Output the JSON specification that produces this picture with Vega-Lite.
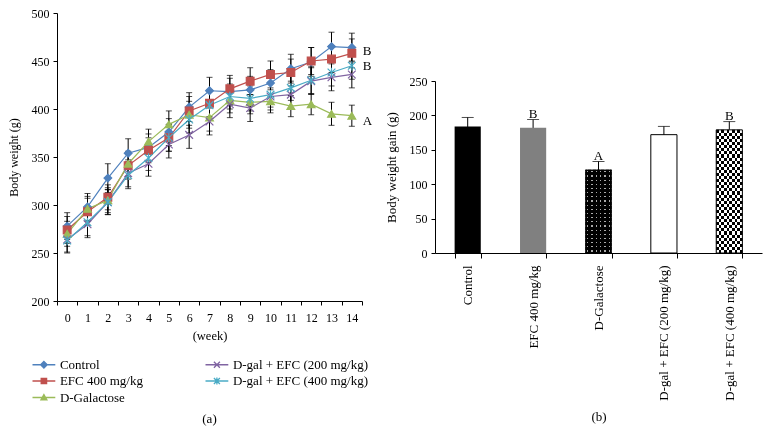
{
  "$schema": "https://vega.github.io/schema/vega-lite/v6.json",
  "padding": {"left": 7, "top": 7, "right": 5, "bottom": 0},
  "background": "white",
  "spacing": 12,
  "resolve": {"scale": {"color": "independent"}, "legend": {"color": "independent"}},
  "config": {
    "font": "Liberation Serif",
    "view": {"stroke": null},
    "axis": {"domainColor": "#000", "tickColor": "#000", "labelColor": "#000", "titleColor": "#000", "grid": false, "labelFont": "Liberation Serif", "titleFont": "Liberation Serif", "titleFontWeight": "normal", "tickSize": 4, "domainWidth": 1, "tickWidth": 1},
    "title": {"font": "Liberation Serif", "fontWeight": "normal", "color": "#000"}
  },
  "datasets": {
    "weights": [
      {"week": 0, "group": "Control", "w": 278, "sd": 14},
      {"week": 1, "group": "Control", "w": 298, "sd": 14},
      {"week": 2, "group": "Control", "w": 328, "sd": 15},
      {"week": 3, "group": "Control", "w": 354, "sd": 15},
      {"week": 4, "group": "Control", "w": 360, "sd": 14},
      {"week": 5, "group": "Control", "w": 376, "sd": 14},
      {"week": 6, "group": "Control", "w": 402, "sd": 15},
      {"week": 7, "group": "Control", "w": 419, "sd": 14},
      {"week": 8, "group": "Control", "w": 418, "sd": 14},
      {"week": 9, "group": "Control", "w": 420, "sd": 14},
      {"week": 10, "group": "Control", "w": 427, "sd": 14},
      {"week": 11, "group": "Control", "w": 442, "sd": 15},
      {"week": 12, "group": "Control", "w": 449, "sd": 15},
      {"week": 13, "group": "Control", "w": 465, "sd": 15},
      {"week": 14, "group": "Control", "w": 464, "sd": 15},
      {"week": 0, "group": "EFC 400 mg/kg", "w": 274, "sd": 14},
      {"week": 1, "group": "EFC 400 mg/kg", "w": 293, "sd": 14},
      {"week": 2, "group": "EFC 400 mg/kg", "w": 308, "sd": 13},
      {"week": 3, "group": "EFC 400 mg/kg", "w": 341, "sd": 14},
      {"week": 4, "group": "EFC 400 mg/kg", "w": 357, "sd": 13},
      {"week": 5, "group": "EFC 400 mg/kg", "w": 370, "sd": 14},
      {"week": 6, "group": "EFC 400 mg/kg", "w": 398, "sd": 15},
      {"week": 7, "group": "EFC 400 mg/kg", "w": 406, "sd": 14},
      {"week": 8, "group": "EFC 400 mg/kg", "w": 421, "sd": 14},
      {"week": 9, "group": "EFC 400 mg/kg", "w": 429, "sd": 14},
      {"week": 10, "group": "EFC 400 mg/kg", "w": 436, "sd": 14},
      {"week": 11, "group": "EFC 400 mg/kg", "w": 438, "sd": 14},
      {"week": 12, "group": "EFC 400 mg/kg", "w": 450, "sd": 14},
      {"week": 13, "group": "EFC 400 mg/kg", "w": 452, "sd": 14},
      {"week": 14, "group": "EFC 400 mg/kg", "w": 458, "sd": 15},
      {"week": 0, "group": "D-Galactose", "w": 270, "sd": 13},
      {"week": 1, "group": "D-Galactose", "w": 296, "sd": 13},
      {"week": 2, "group": "D-Galactose", "w": 305, "sd": 13},
      {"week": 3, "group": "D-Galactose", "w": 343, "sd": 13},
      {"week": 4, "group": "D-Galactose", "w": 366, "sd": 13},
      {"week": 5, "group": "D-Galactose", "w": 384, "sd": 14},
      {"week": 6, "group": "D-Galactose", "w": 394, "sd": 14},
      {"week": 7, "group": "D-Galactose", "w": 391, "sd": 14},
      {"week": 8, "group": "D-Galactose", "w": 409, "sd": 13},
      {"week": 9, "group": "D-Galactose", "w": 407, "sd": 12},
      {"week": 10, "group": "D-Galactose", "w": 408, "sd": 12},
      {"week": 11, "group": "D-Galactose", "w": 403, "sd": 11},
      {"week": 12, "group": "D-Galactose", "w": 405, "sd": 11},
      {"week": 13, "group": "D-Galactose", "w": 395, "sd": 12},
      {"week": 14, "group": "D-Galactose", "w": 393, "sd": 11},
      {"week": 0, "group": "D-gal + EFC (200 mg/kg)", "w": 264, "sd": 13},
      {"week": 1, "group": "D-gal + EFC (200 mg/kg)", "w": 280, "sd": 14},
      {"week": 2, "group": "D-gal + EFC (200 mg/kg)", "w": 303, "sd": 13},
      {"week": 3, "group": "D-gal + EFC (200 mg/kg)", "w": 333, "sd": 14},
      {"week": 4, "group": "D-gal + EFC (200 mg/kg)", "w": 343, "sd": 13},
      {"week": 5, "group": "D-gal + EFC (200 mg/kg)", "w": 363, "sd": 14},
      {"week": 6, "group": "D-gal + EFC (200 mg/kg)", "w": 373, "sd": 14},
      {"week": 7, "group": "D-gal + EFC (200 mg/kg)", "w": 387, "sd": 14},
      {"week": 8, "group": "D-gal + EFC (200 mg/kg)", "w": 405, "sd": 14},
      {"week": 9, "group": "D-gal + EFC (200 mg/kg)", "w": 401, "sd": 14},
      {"week": 10, "group": "D-gal + EFC (200 mg/kg)", "w": 413, "sd": 14},
      {"week": 11, "group": "D-gal + EFC (200 mg/kg)", "w": 415, "sd": 14},
      {"week": 12, "group": "D-gal + EFC (200 mg/kg)", "w": 429, "sd": 14},
      {"week": 13, "group": "D-gal + EFC (200 mg/kg)", "w": 433, "sd": 14},
      {"week": 14, "group": "D-gal + EFC (200 mg/kg)", "w": 436, "sd": 14},
      {"week": 0, "group": "D-gal + EFC (400 mg/kg)", "w": 263, "sd": 13},
      {"week": 1, "group": "D-gal + EFC (400 mg/kg)", "w": 282, "sd": 14},
      {"week": 2, "group": "D-gal + EFC (400 mg/kg)", "w": 303, "sd": 13},
      {"week": 3, "group": "D-gal + EFC (400 mg/kg)", "w": 331, "sd": 14},
      {"week": 4, "group": "D-gal + EFC (400 mg/kg)", "w": 349, "sd": 13},
      {"week": 5, "group": "D-gal + EFC (400 mg/kg)", "w": 370, "sd": 14},
      {"week": 6, "group": "D-gal + EFC (400 mg/kg)", "w": 389, "sd": 14},
      {"week": 7, "group": "D-gal + EFC (400 mg/kg)", "w": 404, "sd": 14},
      {"week": 8, "group": "D-gal + EFC (400 mg/kg)", "w": 413, "sd": 13},
      {"week": 9, "group": "D-gal + EFC (400 mg/kg)", "w": 411, "sd": 13},
      {"week": 10, "group": "D-gal + EFC (400 mg/kg)", "w": 415, "sd": 13},
      {"week": 11, "group": "D-gal + EFC (400 mg/kg)", "w": 422, "sd": 13},
      {"week": 12, "group": "D-gal + EFC (400 mg/kg)", "w": 430, "sd": 14},
      {"week": 13, "group": "D-gal + EFC (400 mg/kg)", "w": 438, "sd": 14},
      {"week": 14, "group": "D-gal + EFC (400 mg/kg)", "w": 445, "sd": 14}
    ],
    "letters": [
      {"week": 14, "w": 460, "label": "B"},
      {"week": 14, "w": 445, "label": "B"},
      {"week": 14, "w": 388, "label": "A"}
    ],
    "gain": [
      {"group": "Control", "gain": 184, "sd": 13, "letter": ""},
      {"group": "EFC 400 mg/kg", "gain": 182, "sd": 12, "letter": "B"},
      {"group": "D-Galactose", "gain": 121, "sd": 12, "letter": "A"},
      {"group": "D-gal + EFC (200 mg/kg)", "gain": 172, "sd": 12, "letter": ""},
      {"group": "D-gal + EFC (400 mg/kg)", "gain": 179, "sd": 12, "letter": "B"}
    ]
  },
  "hconcat": [
    {
      "width": 305,
      "height": 288,
      "title": {"text": "(a)", "orient": "bottom", "fontSize": 13, "offset": 8},
      "data": {"name": "weights"},
      "encoding": {
        "x": {
          "field": "week", "type": "ordinal", "bandPosition": 0.5,
          "scale": {"type": "band", "paddingInner": 0, "paddingOuter": 0},
          "axis": {"title": "(week)", "titleFontSize": 12.5, "titlePadding": 6, "labelAngle": 0, "labelFontSize": 12, "labelPadding": 7, "tickBand": "extent", "tickSize": 4}
        },
        "y": {"field": "w", "type": "quantitative", "scale": {"domain": [200, 500]},
          "axis": {"title": "Body weight (g)", "titleFontSize": 12, "titlePadding": 11, "values": [200, 250, 300, 350, 400, 450, 500], "labelFontSize": 12, "labelPadding": 4, "tickSize": 4}}
      },
      "layer": [
        {
          "mark": {"type": "line", "strokeWidth": 1.2},
          "encoding": {
            "color": {
              "field": "group", "type": "nominal",
              "scale": {"domain": ["Control", "EFC 400 mg/kg", "D-Galactose", "D-gal + EFC (200 mg/kg)", "D-gal + EFC (400 mg/kg)"],
                        "range": ["#4F81BD", "#C0504D", "#9BBB59", "#8064A2", "#4BACC6"]},
              "legend": {
                "orient": "none", "legendX": -28, "legendY": 345, "padding": 0,
                "title": null, "columns": 2, "columnPadding": 59, "rowPadding": 2.5,
                "labelFontSize": 13, "labelFont": "Liberation Serif", "labelColor": "#000",
                "symbolSize": 36, "symbolStrokeWidth": 1.3, "symbolOffset": 8.4, "labelOffset": 9.5,
                "encode": {"symbols": {"update": {
                  "shape": {"signal": "datum.value === 'Control' ? 'M-3.8,0L3.8,0M0,-1.1L1.1,0L0,1.1L-1.1,0Z' : datum.value === 'EFC 400 mg/kg' ? 'M-3.8,0L3.8,0M-0.9,-0.9L0.9,-0.9L0.9,0.9L-0.9,0.9Z' : datum.value === 'D-Galactose' ? 'M-3.8,0L3.8,0M0,-1L1,0.8L-1,0.8Z' : datum.value === 'D-gal + EFC (200 mg/kg)' ? 'M-3.8,0L3.8,0M-1,-1L1,1M-1,1L1,-1' : 'M-3.8,0L3.8,0M-1,-1L1,1M-1,1L1,-1M0,-1.2L0,1.2'"},
                  "fill": {"signal": "datum.value === 'Control' ? '#4F81BD' : datum.value === 'EFC 400 mg/kg' ? '#C0504D' : datum.value === 'D-Galactose' ? '#9BBB59' : datum.value === 'D-gal + EFC (200 mg/kg)' ? '#8064A2' : '#4BACC6'"},
                  "stroke": {"signal": "datum.value === 'Control' ? '#4F81BD' : datum.value === 'EFC 400 mg/kg' ? '#C0504D' : datum.value === 'D-Galactose' ? '#9BBB59' : datum.value === 'D-gal + EFC (200 mg/kg)' ? '#8064A2' : '#4BACC6'"},
                  "strokeWidth": {"value": 1.3},
                  "opacity": {"value": 1}
                }}}
              }
            }
          }
        },
        {
          "mark": {"type": "errorbar", "color": "#000", "ticks": {"size": 6, "color": "#000"}, "rule": {"color": "#000", "strokeWidth": 1}},
          "encoding": {
            "yError": {"field": "sd"}
          }
        },
        {
          "mark": {"type": "point", "filled": true, "size": 60, "opacity": 1, "strokeWidth": 1.2},
          "encoding": {
            "color": {"field": "group", "type": "nominal", "legend": null},
            "stroke": {"field": "group", "type": "nominal",
              "scale": {"domain": ["Control", "EFC 400 mg/kg", "D-Galactose", "D-gal + EFC (200 mg/kg)", "D-gal + EFC (400 mg/kg)"],
                        "range": ["#4F81BD", "#C0504D", "#9BBB59", "#8064A2", "#4BACC6"]}, "legend": null},
            "shape": {"field": "group", "type": "nominal",
              "scale": {"domain": ["Control", "EFC 400 mg/kg", "D-Galactose", "D-gal + EFC (200 mg/kg)", "D-gal + EFC (400 mg/kg)"],
                        "range": ["diamond", "square", "triangle-up", "M-1,-1L1,1M-1,1L1,-1", "M-1,-1L1,1M-1,1L1,-1M0,-1.2L0,1.2"]}, "legend": null}
          }
        },
        {
          "data": {"name": "letters"},
          "mark": {"type": "text", "align": "left", "dx": 11, "fontSize": 13, "font": "Liberation Serif", "color": "#000"},
          "encoding": {
            "text": {"field": "label"}
          }
        }
      ]
    },
    {
      "spacing": 0,
      "vconcat": [
        {
          "width": 327,
          "height": 62,
          "data": {"values": []},
          "mark": {"type": "text"},
          "encoding": {}
        },
        {
          "width": 327,
          "height": 172,
          "data": {"name": "gain"},
          "encoding": {
            "x": {
              "field": "group", "type": "nominal", "sort": null,
              "scale": {"paddingInner": 0.6, "paddingOuter": 0.3},
              "axis": {"labelAngle": -90, "tickBand": "extent", "title": "(b)", "titleFontSize": 13, "titlePadding": 10, "labelFontSize": 13, "labelPadding": 7, "tickSize": 5}
            },
            "y": {"field": "gain", "type": "quantitative", "scale": {"domain": [0, 250]},
              "axis": {"title": "Body weight gain (g)", "titleFontSize": 13, "titlePadding": 11, "values": [0, 50, 100, 150, 200, 250], "labelFontSize": 12, "labelPadding": 4, "tickSize": 4}}
          },
          "layer": [
            {
              "mark": {"type": "errorbar", "color": "#000", "ticks": {"size": 12, "color": "#000"}, "rule": {"color": "#000", "strokeWidth": 1}},
              "encoding": {
                "yError": {"field": "sd"}
              }
            },
            {
              "mark": {"type": "bar"},
              "encoding": {
                "fill": {"field": "group", "type": "nominal", "legend": null,
                  "scale": {"domain": ["Control", "EFC 400 mg/kg", "D-Galactose", "D-gal + EFC (200 mg/kg)", "D-gal + EFC (400 mg/kg)"],
                            "range": ["#000000", "#808080", "#000000", "#ffffff", "#ffffff"]}}
              }
            },
            {
              "transform": [{"filter": "datum.group === 'D-Galactose'"}],
              "mark": {"type": "bar", "fill": {"gradient": "linear", "x1": 0, "y1": 0, "x2": 1, "y2": 0, "stops": [
                {"offset": 0, "color": "#000"}, {"offset": 0.058, "color": "#000"}, {"offset": 0.058, "color": "#aaa"}, {"offset": 0.108, "color": "#aaa"},
                {"offset": 0.108, "color": "#000"}, {"offset": 0.225, "color": "#000"}, {"offset": 0.225, "color": "#aaa"}, {"offset": 0.275, "color": "#aaa"},
                {"offset": 0.275, "color": "#000"}, {"offset": 0.392, "color": "#000"}, {"offset": 0.392, "color": "#aaa"}, {"offset": 0.442, "color": "#aaa"},
                {"offset": 0.442, "color": "#000"}, {"offset": 0.558, "color": "#000"}, {"offset": 0.558, "color": "#aaa"}, {"offset": 0.608, "color": "#aaa"},
                {"offset": 0.608, "color": "#000"}, {"offset": 0.725, "color": "#000"}, {"offset": 0.725, "color": "#aaa"}, {"offset": 0.775, "color": "#aaa"},
                {"offset": 0.775, "color": "#000"}, {"offset": 0.892, "color": "#000"}, {"offset": 0.892, "color": "#aaa"}, {"offset": 0.942, "color": "#aaa"},
                {"offset": 0.942, "color": "#000"}, {"offset": 1, "color": "#000"}]}},
              "encoding": {}
            },
            {
              "transform": [{"filter": "datum.group === 'D-Galactose'"}],
              "mark": {"type": "bar", "blend": "multiply", "fill": {"gradient": "linear", "x1": 0, "y1": 0, "x2": 0, "y2": 1, "stops": [
                {"offset": 0, "color": "#000"}, {"offset": 0.018, "color": "#000"}, {"offset": 0.018, "color": "#fff"}, {"offset": 0.033, "color": "#fff"},
                {"offset": 0.033, "color": "#000"}, {"offset": 0.068, "color": "#000"}, {"offset": 0.068, "color": "#fff"}, {"offset": 0.083, "color": "#fff"},
                {"offset": 0.083, "color": "#000"}, {"offset": 0.118, "color": "#000"}, {"offset": 0.118, "color": "#fff"}, {"offset": 0.133, "color": "#fff"},
                {"offset": 0.133, "color": "#000"}, {"offset": 0.168, "color": "#000"}, {"offset": 0.168, "color": "#fff"}, {"offset": 0.183, "color": "#fff"},
                {"offset": 0.183, "color": "#000"}, {"offset": 0.218, "color": "#000"}, {"offset": 0.218, "color": "#fff"}, {"offset": 0.233, "color": "#fff"},
                {"offset": 0.233, "color": "#000"}, {"offset": 0.268, "color": "#000"}, {"offset": 0.268, "color": "#fff"}, {"offset": 0.283, "color": "#fff"},
                {"offset": 0.283, "color": "#000"}, {"offset": 0.318, "color": "#000"}, {"offset": 0.318, "color": "#fff"}, {"offset": 0.333, "color": "#fff"},
                {"offset": 0.333, "color": "#000"}, {"offset": 0.368, "color": "#000"}, {"offset": 0.368, "color": "#fff"}, {"offset": 0.383, "color": "#fff"},
                {"offset": 0.383, "color": "#000"}, {"offset": 0.418, "color": "#000"}, {"offset": 0.418, "color": "#fff"}, {"offset": 0.433, "color": "#fff"},
                {"offset": 0.433, "color": "#000"}, {"offset": 0.468, "color": "#000"}, {"offset": 0.468, "color": "#fff"}, {"offset": 0.483, "color": "#fff"},
                {"offset": 0.483, "color": "#000"}, {"offset": 0.518, "color": "#000"}, {"offset": 0.518, "color": "#fff"}, {"offset": 0.533, "color": "#fff"},
                {"offset": 0.533, "color": "#000"}, {"offset": 0.568, "color": "#000"}, {"offset": 0.568, "color": "#fff"}, {"offset": 0.583, "color": "#fff"},
                {"offset": 0.583, "color": "#000"}, {"offset": 0.618, "color": "#000"}, {"offset": 0.618, "color": "#fff"}, {"offset": 0.633, "color": "#fff"},
                {"offset": 0.633, "color": "#000"}, {"offset": 0.668, "color": "#000"}, {"offset": 0.668, "color": "#fff"}, {"offset": 0.683, "color": "#fff"},
                {"offset": 0.683, "color": "#000"}, {"offset": 0.718, "color": "#000"}, {"offset": 0.718, "color": "#fff"}, {"offset": 0.733, "color": "#fff"},
                {"offset": 0.733, "color": "#000"}, {"offset": 0.768, "color": "#000"}, {"offset": 0.768, "color": "#fff"}, {"offset": 0.783, "color": "#fff"},
                {"offset": 0.783, "color": "#000"}, {"offset": 0.818, "color": "#000"}, {"offset": 0.818, "color": "#fff"}, {"offset": 0.833, "color": "#fff"},
                {"offset": 0.833, "color": "#000"}, {"offset": 0.868, "color": "#000"}, {"offset": 0.868, "color": "#fff"}, {"offset": 0.883, "color": "#fff"},
                {"offset": 0.883, "color": "#000"}, {"offset": 0.918, "color": "#000"}, {"offset": 0.918, "color": "#fff"}, {"offset": 0.933, "color": "#fff"},
                {"offset": 0.933, "color": "#000"}, {"offset": 0.968, "color": "#000"}, {"offset": 0.968, "color": "#fff"}, {"offset": 0.983, "color": "#fff"},
                {"offset": 0.983, "color": "#000"}, {"offset": 1, "color": "#000"}]}},
              "encoding": {}
            },
            {
              "transform": [{"filter": "datum.group === 'D-gal + EFC (400 mg/kg)'"}],
              "mark": {"type": "bar", "fill": {"gradient": "linear", "x1": 0, "y1": 0, "x2": 1, "y2": 0, "stops": [
                {"offset": 0, "color": "#000"}, {"offset": 0.1, "color": "#000"}, {"offset": 0.1, "color": "#fff"}, {"offset": 0.2, "color": "#fff"},
                {"offset": 0.2, "color": "#000"}, {"offset": 0.3, "color": "#000"}, {"offset": 0.3, "color": "#fff"}, {"offset": 0.4, "color": "#fff"},
                {"offset": 0.4, "color": "#000"}, {"offset": 0.5, "color": "#000"}, {"offset": 0.5, "color": "#fff"}, {"offset": 0.6, "color": "#fff"},
                {"offset": 0.6, "color": "#000"}, {"offset": 0.7, "color": "#000"}, {"offset": 0.7, "color": "#fff"}, {"offset": 0.8, "color": "#fff"},
                {"offset": 0.8, "color": "#000"}, {"offset": 0.9, "color": "#000"}, {"offset": 0.9, "color": "#fff"}, {"offset": 1, "color": "#fff"}]}},
              "encoding": {}
            },
            {
              "transform": [{"filter": "datum.group === 'D-gal + EFC (400 mg/kg)'"}],
              "mark": {"type": "bar", "blend": "difference", "fill": {"gradient": "linear", "x1": 0, "y1": 0, "x2": 0, "y2": 1, "stops": [
                {"offset": 0, "color": "rgba(255,255,255,0)"}, {"offset": 0.025, "color": "rgba(255,255,255,0)"}, {"offset": 0.025, "color": "#fff"}, {"offset": 0.05, "color": "#fff"},
                {"offset": 0.05, "color": "rgba(255,255,255,0)"}, {"offset": 0.075, "color": "rgba(255,255,255,0)"}, {"offset": 0.075, "color": "#fff"}, {"offset": 0.1, "color": "#fff"},
                {"offset": 0.1, "color": "rgba(255,255,255,0)"}, {"offset": 0.125, "color": "rgba(255,255,255,0)"}, {"offset": 0.125, "color": "#fff"}, {"offset": 0.15, "color": "#fff"},
                {"offset": 0.15, "color": "rgba(255,255,255,0)"}, {"offset": 0.175, "color": "rgba(255,255,255,0)"}, {"offset": 0.175, "color": "#fff"}, {"offset": 0.2, "color": "#fff"},
                {"offset": 0.2, "color": "rgba(255,255,255,0)"}, {"offset": 0.225, "color": "rgba(255,255,255,0)"}, {"offset": 0.225, "color": "#fff"}, {"offset": 0.25, "color": "#fff"},
                {"offset": 0.25, "color": "rgba(255,255,255,0)"}, {"offset": 0.275, "color": "rgba(255,255,255,0)"}, {"offset": 0.275, "color": "#fff"}, {"offset": 0.3, "color": "#fff"},
                {"offset": 0.3, "color": "rgba(255,255,255,0)"}, {"offset": 0.325, "color": "rgba(255,255,255,0)"}, {"offset": 0.325, "color": "#fff"}, {"offset": 0.35, "color": "#fff"},
                {"offset": 0.35, "color": "rgba(255,255,255,0)"}, {"offset": 0.375, "color": "rgba(255,255,255,0)"}, {"offset": 0.375, "color": "#fff"}, {"offset": 0.4, "color": "#fff"},
                {"offset": 0.4, "color": "rgba(255,255,255,0)"}, {"offset": 0.425, "color": "rgba(255,255,255,0)"}, {"offset": 0.425, "color": "#fff"}, {"offset": 0.45, "color": "#fff"},
                {"offset": 0.45, "color": "rgba(255,255,255,0)"}, {"offset": 0.475, "color": "rgba(255,255,255,0)"}, {"offset": 0.475, "color": "#fff"}, {"offset": 0.5, "color": "#fff"},
                {"offset": 0.5, "color": "rgba(255,255,255,0)"}, {"offset": 0.525, "color": "rgba(255,255,255,0)"}, {"offset": 0.525, "color": "#fff"}, {"offset": 0.55, "color": "#fff"},
                {"offset": 0.55, "color": "rgba(255,255,255,0)"}, {"offset": 0.575, "color": "rgba(255,255,255,0)"}, {"offset": 0.575, "color": "#fff"}, {"offset": 0.6, "color": "#fff"},
                {"offset": 0.6, "color": "rgba(255,255,255,0)"}, {"offset": 0.625, "color": "rgba(255,255,255,0)"}, {"offset": 0.625, "color": "#fff"}, {"offset": 0.65, "color": "#fff"},
                {"offset": 0.65, "color": "rgba(255,255,255,0)"}, {"offset": 0.675, "color": "rgba(255,255,255,0)"}, {"offset": 0.675, "color": "#fff"}, {"offset": 0.7, "color": "#fff"},
                {"offset": 0.7, "color": "rgba(255,255,255,0)"}, {"offset": 0.725, "color": "rgba(255,255,255,0)"}, {"offset": 0.725, "color": "#fff"}, {"offset": 0.75, "color": "#fff"},
                {"offset": 0.75, "color": "rgba(255,255,255,0)"}, {"offset": 0.775, "color": "rgba(255,255,255,0)"}, {"offset": 0.775, "color": "#fff"}, {"offset": 0.8, "color": "#fff"},
                {"offset": 0.8, "color": "rgba(255,255,255,0)"}, {"offset": 0.825, "color": "rgba(255,255,255,0)"}, {"offset": 0.825, "color": "#fff"}, {"offset": 0.85, "color": "#fff"},
                {"offset": 0.85, "color": "rgba(255,255,255,0)"}, {"offset": 0.875, "color": "rgba(255,255,255,0)"}, {"offset": 0.875, "color": "#fff"}, {"offset": 0.9, "color": "#fff"},
                {"offset": 0.9, "color": "rgba(255,255,255,0)"}, {"offset": 0.925, "color": "rgba(255,255,255,0)"}, {"offset": 0.925, "color": "#fff"}, {"offset": 0.95, "color": "#fff"},
                {"offset": 0.95, "color": "rgba(255,255,255,0)"}, {"offset": 0.975, "color": "rgba(255,255,255,0)"}, {"offset": 0.975, "color": "#fff"}, {"offset": 1, "color": "#fff"}]}},
              "encoding": {}
            },
            {
              "transform": [{"filter": "datum.group === 'D-gal + EFC (200 mg/kg)' || datum.group === 'D-gal + EFC (400 mg/kg)'"}],
              "mark": {"type": "bar", "filled": false, "color": "#000", "strokeWidth": 1},
              "encoding": {}
            },
            {
              "mark": {"type": "text", "baseline": "middle", "dy": -14, "fontSize": 13, "font": "Liberation Serif", "color": "#000"},
              "encoding": {
                "text": {"field": "letter"}
              }
            }
          ]
        }
      ]
    }
  ]
}
